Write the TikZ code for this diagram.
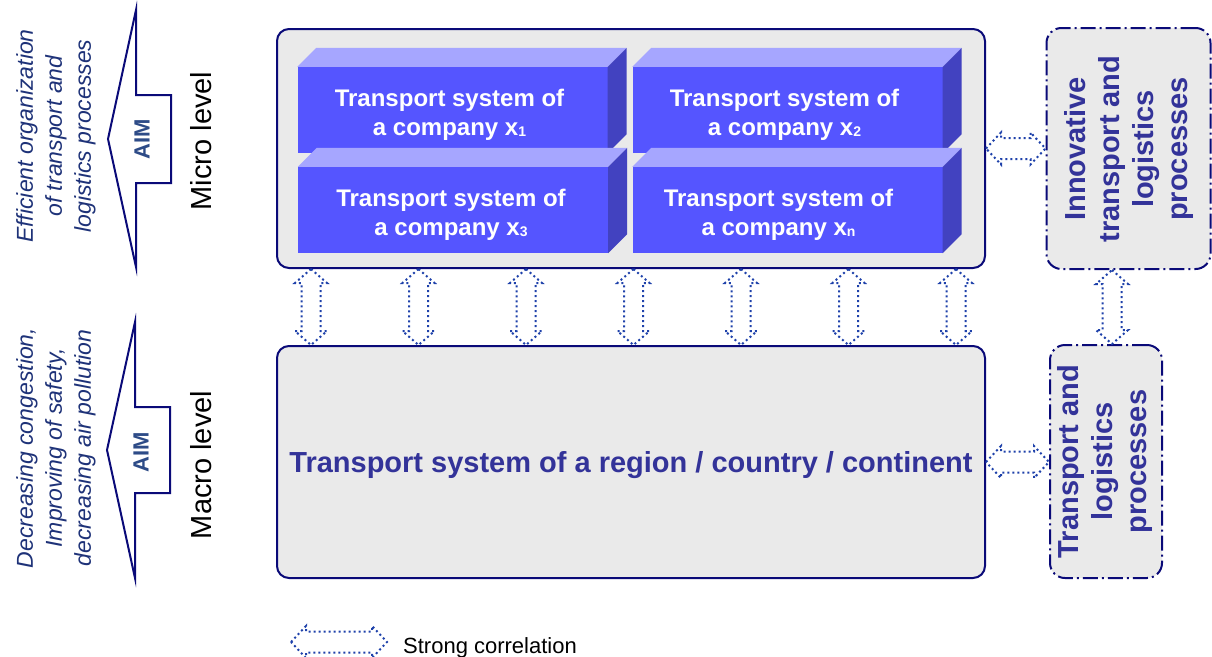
\documentclass[tikz,border=0pt]{standalone}
\usepackage{fontspec}
\setmainfont{Liberation Sans}
\usetikzlibrary{calc}
\definecolor{navy}{RGB}{10,10,120}
\definecolor{boxfill}{RGB}{234,234,234}
\definecolor{cfront}{RGB}{85,85,255}
\definecolor{ctop}{RGB}{166,166,255}
\definecolor{cside}{RGB}{66,66,192}
\definecolor{textblue}{RGB}{51,51,153}
\definecolor{italblue}{RGB}{30,50,120}
\definecolor{aimc}{RGB}{45,75,135}
\definecolor{corrc}{RGB}{30,65,170}
\newcommand\subidx[1]{\raisebox{-1pt}{\fontsize{14}{14}\selectfont #1}}
\tikzset{
  bigbox/.style={draw=navy, line width=2pt, fill=boxfill, rounded corners=12pt, inner sep=0pt},
  dbox/.style={draw=navy, line width=2pt, fill=boxfill, rounded corners=15pt, inner sep=0pt,
    dash pattern=on 15pt off 4pt on 2pt off 4pt},
  front/.style={rectangle, fill=cfront, minimum width=310pt, minimum height=86pt, inner sep=0pt},
  ctext/.style={text=white, align=center, font=\fontsize{24}{29}\selectfont\bfseries, inner sep=0pt},
  aimarrow/.style={draw=navy, line width=2pt, fill=white, line join=miter},
  aimtext/.style={rotate=90, text=aimc, font=\fontsize{22}{22}\selectfont\bfseries, inner sep=0pt},
  leveltext/.style={rotate=90, font=\fontsize{29}{29}\selectfont, inner sep=0pt},
  goaltext/.style={rotate=90, text=italblue, align=center, font=\fontsize{23}{29}\selectfont\itshape, inner sep=0pt},
  sidetext/.style={rotate=90, text=textblue, align=center, font=\fontsize{29}{34}\selectfont\bfseries, inner sep=0pt},
  corr/.style={draw=corrc, line width=2pt, dash pattern=on 2pt off 3pt},
  vcorr/.style={corr, to path={let \p1=(\tikztostart), \p2=(\tikztotarget) in
    (\p1) -- (\x1+16pt,\y1-14pt) -- (\x1+9.5pt,\y1-14pt) -- (\x1+9.5pt,\y2+14pt) -- (\x1+16pt,\y2+14pt)
    -- (\x1,\y2) -- (\x1-16pt,\y2+14pt) -- (\x1-9.5pt,\y2+14pt) -- (\x1-9.5pt,\y1-14pt) -- (\x1-16pt,\y1-14pt) -- cycle}},
  hcorr/.style={corr, to path={let \p1=(\tikztostart), \p2=(\tikztotarget) in
    (\p1) -- (\x1+15pt,\y1+16pt) -- (\x1+15pt,\y1+10.5pt) -- (\x2-15pt,\y1+10.5pt) -- (\x2-15pt,\y1+16pt)
    -- (\x2,\y1) -- (\x2-15pt,\y1-16pt) -- (\x2-15pt,\y1-10.5pt) -- (\x1+15pt,\y1-10.5pt) -- (\x1+15pt,\y1-16pt) -- cycle}}
}
\begin{document}
\begin{tikzpicture}[x=1pt,y=-1pt]
\useasboundingbox (0,0) rectangle (1212,656);
% main boxes
\node[bigbox, minimum width=708pt, minimum height=239pt] (micro) at (631,148.5) {};
\node[bigbox, minimum width=708pt, minimum height=232pt] (macro) at (631,462) {};
\node[dbox, minimum width=164pt, minimum height=241pt] (innov) at (1128.5,148.5) {};
\node[dbox, minimum width=112pt, minimum height=233pt] (tlp) at (1106,461.5) {};
% company boxes
\node[front] (c1) at (452.5,110) {};
\node[front] (c2) at (787.5,110) {};
\node[front] (c3) at (453,210) {};
\node[front] (c4) at (787.5,210) {};
\foreach \n in {c1,c2,c3,c4}{
  \fill[ctop] (\n.north west) -- ++(19,-19) -- ([shift={(19,-19)}]\n.north east) -- (\n.north east) -- cycle;
  \fill[cside] (\n.north east) -- ++(19,-19) -- ([shift={(19,-19)}]\n.south east) -- (\n.south east) -- cycle;
}
\node[ctext] (t1) at ([shift={(-3,5)}]c1.center) {Transport system of\\a company x\subidx{1}};
\node[ctext] (t2) at ([shift={(-3,5)}]c2.center) {Transport system of\\a company x\subidx{2}};
\node[ctext] (t3) at ([shift={(-2,5)}]c3.center) {Transport system of\\a company x\subidx{3}};
\node[ctext] (t4) at ([shift={(-9,5)}]c4.center) {Transport system of\\a company x\subidx{n}};
% macro text
\node[anchor=base, text=textblue, font=\fontsize{29}{29}\selectfont\bfseries, inner sep=0pt] (mt) at (631,472) {Transport system of a region / country / continent};
% side texts
\node[sidetext] (it) at (1128.5,149) {Innovative\\transport and\\logistics\\processes};
\node[sidetext] (tt) at (1105,461.5) {Transport and\\logistics\\processes};
% left aim arrows
\draw[aimarrow] (136,10) -- (108,139) -- (136,267) -- (136,183) -- (171,183) -- (171,95) -- (136,95) -- cycle;
\draw[aimarrow] (135,322) -- (107,450) -- (135,578) -- (135,493) -- (170,493) -- (170,407) -- (135,407) -- cycle;
\node[aimtext] (aim1) at (142,139) {AIM};
\node[aimtext] (aim2) at (141,452) {AIM};
\node[leveltext] (ml) at (201,141) {Micro level};
\node[leveltext] (mal) at (201,465) {Macro level};
\node[goaltext] (g1) at (56,136) {Efficient organization\\of transport and\\logistics processes};
\node[goaltext] (g2) at (56,448) {Decreasing congestion,\\Improving of safety,\\decreasing air pollution};
% correlations
\foreach \xx in {311,418.5,526,633.5,741,848.5,956}{
  \draw[vcorr] (micro.south -| \xx,0) to (macro.north -| \xx,0);
}
\draw[vcorr] (innov.south -| 1112,0) to (tlp.north -| 1112,0);
\draw[hcorr] (micro.east) to (innov.west |- micro.east);
\draw[hcorr] (macro.east) to (tlp.west |- macro.east);
% legend
\coordinate (la) at (291,642);
\coordinate (lb) at (387,642);
\draw[hcorr] (la) to (lb);
\node[anchor=base west, font=\fontsize{22}{26}\selectfont, inner sep=0pt] (leg) at (403,653) {Strong correlation};
\end{tikzpicture}
\end{document}
